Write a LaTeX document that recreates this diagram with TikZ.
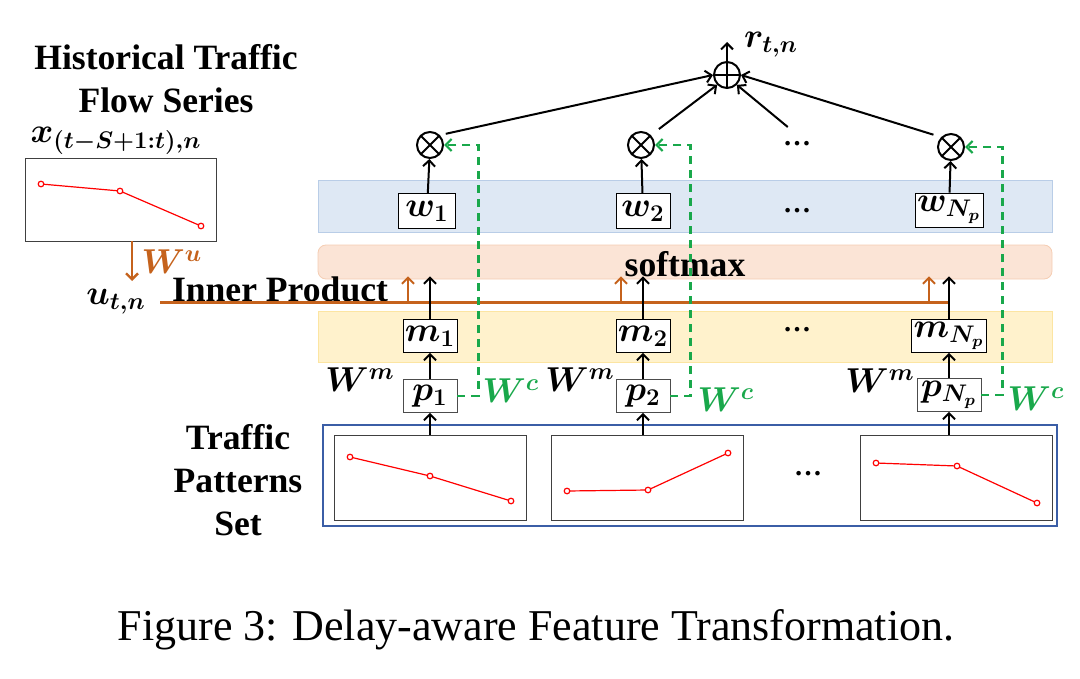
\documentclass[tikz,border=0pt]{standalone}
\usepackage{amsmath,amssymb}
\usepackage{fontspec}
\setmainfont{Liberation Serif}
\usepackage{tikz}
\usetikzlibrary{arrows.meta,calc}

\definecolor{bandblue}{HTML}{DEE8F4}
\definecolor{bandblueedge}{HTML}{B9CDE7}
\definecolor{bandpeach}{HTML}{FBE4D6}
\definecolor{bandpeachedge}{HTML}{F5CDB3}
\definecolor{bandyellow}{HTML}{FFF2CC}
\definecolor{bandyellowedge}{HTML}{FCE5A2}
\definecolor{setblue}{HTML}{3B5EA6}
\definecolor{brownline}{HTML}{C5621C}
\definecolor{greendash}{HTML}{19A84B}

\tikzset{
  mulnode/.style={circle, draw, line width=1pt, minimum size=13pt, inner sep=0pt,
    path picture={\draw[line width=1pt] (path picture bounding box.north west) -- (path picture bounding box.south east)
      (path picture bounding box.north east) -- (path picture bounding box.south west);}},
  addnode/.style={circle, draw, line width=1pt, minimum size=13pt, inner sep=0pt,
    path picture={\draw[line width=1pt] (path picture bounding box.north) -- (path picture bounding box.south)
      (path picture bounding box.west) -- (path picture bounding box.east);}},
  trend/.style={red, line width=0.6pt, mark=*, mark size=1.4pt, mark options={fill=white, draw=red}}
}

\begin{document}
\begin{tikzpicture}[x=0.5pt,y=-0.5pt,
  lbl/.style={font=\fontsize{17.8}{21.5}\selectfont\bfseries, align=center},
  mth/.style={font=\fontsize{16.5}{18}\selectfont\boldmath, inner sep=1pt},
  vecbox/.style={mth, draw, fill=white, minimum width=27pt, minimum height=16.5pt},
  band/.style={minimum width=367pt, inner sep=0pt},
  patbox/.style={draw=black!75, fill=white, minimum width=96pt, minimum height=42.5pt},
  dotsnode/.style={font=\fontsize{14}{14}\selectfont\bfseries},
  arr/.style={-{Straight Barb[length=3pt,width=6pt]}, line width=1pt},
  brarr/.style={arr, draw=brownline},
  grarr/.style={-{Straight Barb[length=3pt,width=6pt]}, line width=1.1pt, draw=greendash, dash pattern=on 4pt off 3pt}]
\useasboundingbox (0,0) rectangle (1080,679);

% background bands
\node[band, minimum height=26pt, fill=bandblue, draw=bandblueedge] (bandw) at (685,206) {};
\node[band, minimum height=17pt, rounded corners=4pt, fill=bandpeach, draw=bandpeachedge] (bandsoft) at (685,262) {};
\node[band, minimum height=25.5pt, fill=bandyellow, draw=bandyellowedge] (bandm) at (685,336.5) {};
\node[lbl] (softtext) at (685,264) {softmax};

% history input
\node[lbl] (histtitle) at (166,79) {Historical Traffic\\Flow Series};
\node[mth] (xlab) at (116,141) {$x_{(t-S+1:t),n}$};
\node[draw=black!75, minimum width=95.5pt, minimum height=41.5pt] (hist) at (120.5,199.5) {};
\draw[trend] plot coordinates {(41,184) (120,191) (201,226)};
\coordinate (uin) at (132,281);
\draw[brarr, line width=1.2pt] (hist.south -| uin) -- (uin);
\node[mth, text=brownline] (wu) at (172,262) {$W^{u}$};
\node[mth] (u) at (116,302) {$u_{t,n}$};
\node[lbl] (inner) at (280,289) {Inner Product};

% pattern set
\node[lbl] (settitle) at (238,480) {Traffic\\Patterns\\Set};
\node[draw=setblue, line width=0.8pt, minimum width=367pt, minimum height=50.5pt] (set) at (690,475.5) {};
\node[patbox] (pat1) at (430,477.5) {};
\node[patbox] (pat2) at (647,477.5) {};
\node[patbox] (pat3) at (956,477.5) {};
\draw[trend] plot coordinates {(350,457) (430,476) (511,501)};
\draw[trend] plot coordinates {(567,491) (648,490) (728,453)};
\draw[trend] plot coordinates {(876,463) (957,466) (1037,503)};
\node[dotsnode] (dots4) at (808,474) {\dots};

% columns
\node[vecbox, draw=black!70] (p1) at (430,396) {$p_1$};
\node[vecbox, draw=black!70] (p2) at (643,396) {$p_2$};
\node[vecbox, draw=black!70, minimum width=32pt] (pN) at (949,395) {$p_{N_p}$};
\node[vecbox] (m1) at (430,336) {$m_1$};
\node[vecbox] (m2) at (643,336) {$m_2$};
\node[vecbox, minimum width=32pt] (mN) at (949,336) {$m_{N_p}$};
\node[vecbox, minimum height=17.5pt, minimum width=28.5pt] (w1) at (427,211) {$w_1$};
\node[vecbox, minimum height=17.5pt] (w2) at (643,211) {$w_2$};
\node[vecbox, minimum height=17pt, minimum width=32pt] (wN) at (949,210) {$w_{N_p}$};
\node[mulnode] (o1) at (430,145) {};
\node[mulnode] (o2) at (641,145) {};
\node[mulnode] (o3) at (951,147) {};
\node[addnode] (plus) at (727,75) {};
\coordinate (rtop) at (727,42);
\node[mth] (rlab) at (771,45) {$r_{t,n}$};
\node[dotsnode] (dots1) at (797,144) {\dots};
\node[dotsnode] (dots2) at (797,211) {\dots};
\node[dotsnode] (dots3) at (797,330) {\dots};

\node[mth] (wm1) at (360,380) {$W^{m}$};
\node[mth] (wm2) at (580,380) {$W^{m}$};
\node[mth] (wm3) at (880,381) {$W^{m}$};
\node[mth, text=greendash] (wc1) at (511,391) {$W^{c}$};
\node[mth, text=greendash] (wc2) at (726,400) {$W^{c}$};
\node[mth, text=greendash] (wc3) at (1036,399) {$W^{c}$};

% connectors
\draw[arr] (p1.south |- pat1.north) -- (p1.south);
\draw[arr] (p2.south |- pat2.north) -- (p2.south);
\draw[arr] (pN.south |- pat3.north) -- (pN.south);
\draw[arr] (p1) -- (m1);
\draw[arr] (p2) -- (m2);
\draw[arr] (pN) -- (mN);
\draw[brownline, line width=1.5pt] ($(u.east |- 0,302)+(12,0)$) -- (mN.north |- 0,302);
\draw[brarr] ($(m1.north |- 0,302)+(-22,0)$) -- ($(m1.north |- bandsoft.south)+(-22,-3)$);
\draw[brarr] ($(m2.north |- 0,302)+(-22,0)$) -- ($(m2.north |- bandsoft.south)+(-22,-3)$);
\draw[brarr] ($(mN.north |- 0,302)+(-20,0)$) -- ($(mN.north |- bandsoft.south)+(-20,-3)$);
\draw[arr] (m1.north) -- ($(m1.north |- bandsoft.south)+(0,-3)$);
\draw[arr] (m2.north) -- ($(m2.north |- bandsoft.south)+(0,-3)$);
\draw[arr] (mN.north) -- ($(mN.north |- bandsoft.south)+(0,-3)$);
\draw[arr] (w1) -- (o1);
\draw[arr] (w2) -- (o2);
\draw[arr] (wN) -- (o3);
\draw[grarr] (p1.east) -- ++(21,0) |- (o1.east);
\draw[grarr] (p2.east) -- ++(20,0) |- (o2.east);
\draw[grarr] (pN.east) -- ++(21,0) |- (o3.east);
\draw[arr, shorten <=3pt] (o1.north east) -- (plus.west);
\draw[arr, shorten <=5pt] (o2.north east) -- (plus.south west);
\draw[arr, shorten <=6pt] (dots1.north) -- (plus.south east);
\draw[arr, shorten <=4pt] (o3.north west) -- (plus.east);
\draw[arr] (plus.north) -- (rtop);

% caption
\node[font=\fontsize{22}{26}\selectfont] (caption) at (536,630) {Figure 3: Delay-aware Feature Transformation.};
\end{tikzpicture}
\end{document}
